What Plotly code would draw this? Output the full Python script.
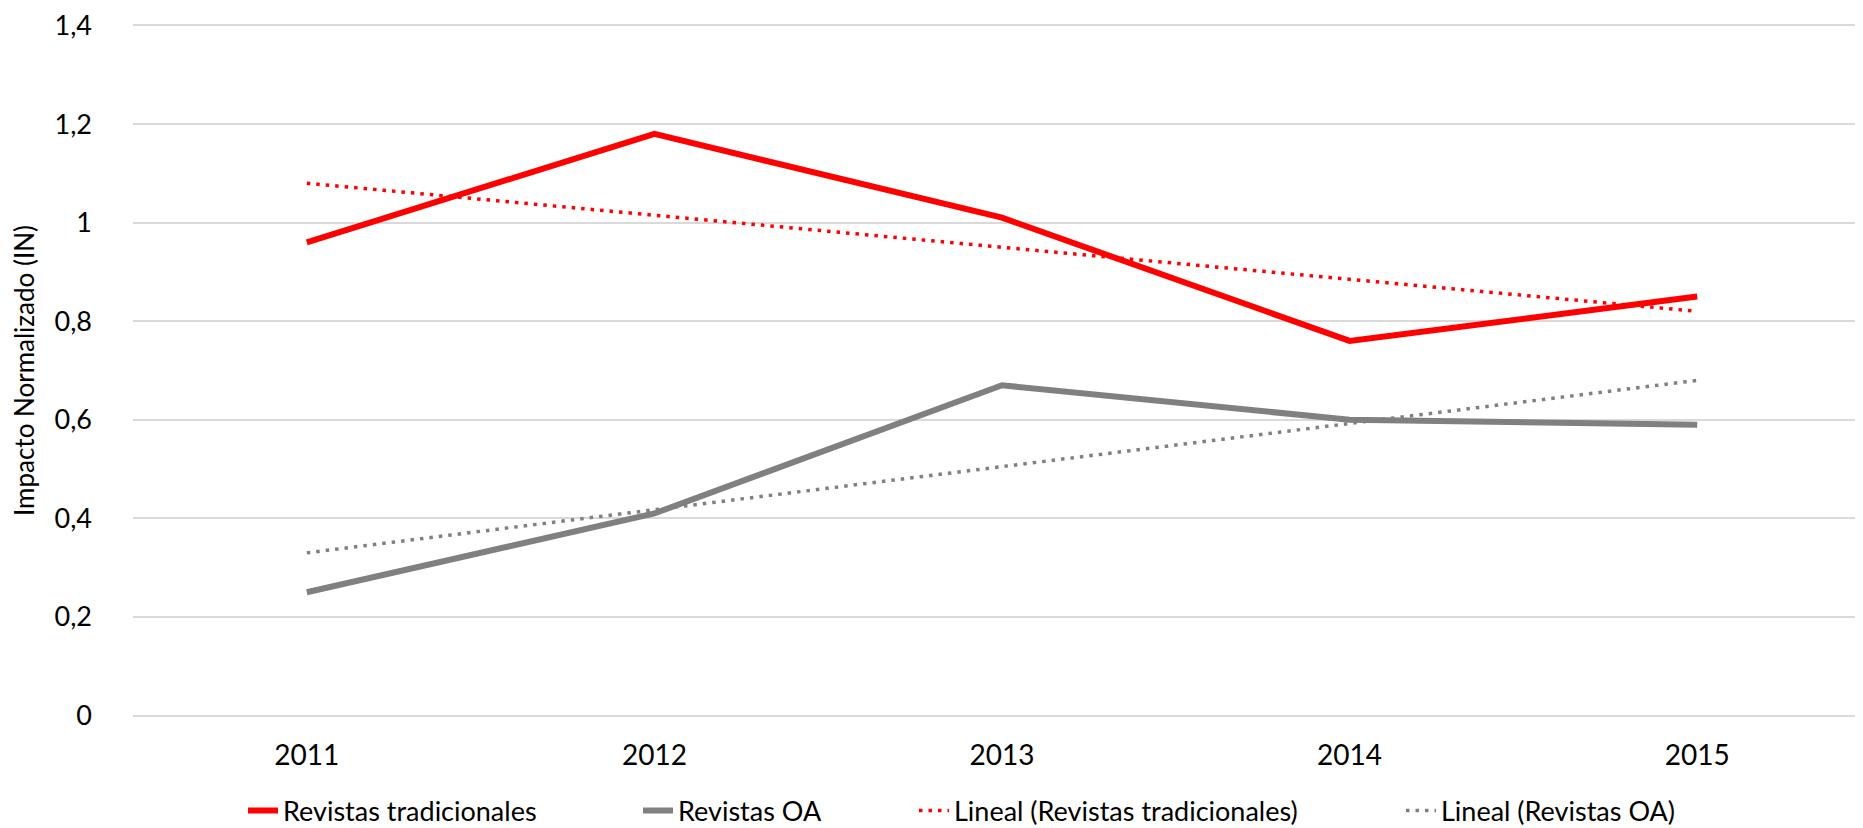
"""Impacto normalizado: revistas tradicionales vs revistas OA, 2011-2015."""

import plotly.graph_objects as go

YEARS = ["2011", "2012", "2013", "2014", "2015"]
TRADICIONALES = [0.96, 1.18, 1.01, 0.76, 0.85]
OPEN_ACCESS = [0.25, 0.41, 0.67, 0.60, 0.59]

# linear trend lines, endpoints as drawn in the source chart
TREND_YEARS = ["2011", "2015"]
TREND_TRADICIONALES = [1.08, 0.82]
TREND_OPEN_ACCESS = [0.33, 0.68]

Y_TICKS = [0, 0.2, 0.4, 0.6, 0.8, 1.0, 1.2, 1.4]
Y_TICK_TEXT = ["0", "0,2", "0,4", "0,6", "0,8", "1", "1,2", "1,4"]

RED = "#ff0000"
GRAY = "#808080"
FONT = "Lato, Open Sans, Arial"
WIDTH, HEIGHT = 1863, 828

# one legend per series so that each entry sits where it does in the original
LEGEND_TEXT_X = [279, 674, 950, 1437]


def _legend(text_x: float) -> dict:
    return {
        "orientation": "h",
        "xref": "container",
        "yref": "container",
        "x": (text_x - 44) / WIDTH,
        "xanchor": "left",
        "y": 1 - 803 / HEIGHT,
        "yanchor": "middle",
        "font": {"size": 27, "color": "#000000"},
        "bgcolor": "rgba(0,0,0,0)",
    }


fig = go.Figure()
fig.add_trace(
    go.Scatter(
        x=YEARS, y=TRADICIONALES, mode="lines", name="Revistas tradicionales",
        line={"color": RED, "width": 6}, legend="legend",
    )
)
fig.add_trace(
    go.Scatter(
        x=YEARS, y=OPEN_ACCESS, mode="lines", name="Revistas OA",
        line={"color": GRAY, "width": 6}, legend="legend2",
    )
)
fig.add_trace(
    go.Scatter(
        x=TREND_YEARS, y=TREND_TRADICIONALES, mode="lines",
        name="Lineal (Revistas tradicionales)",
        line={"color": RED, "width": 3.5, "dash": "3.5px,6px"}, legend="legend3",
    )
)
fig.add_trace(
    go.Scatter(
        x=TREND_YEARS, y=TREND_OPEN_ACCESS, mode="lines",
        name="Lineal (Revistas OA)",
        line={"color": GRAY, "width": 3.5, "dash": "3.5px,6px"}, legend="legend4",
    )
)

fig.update_layout(
    width=WIDTH,
    height=HEIGHT,
    paper_bgcolor="white",
    plot_bgcolor="white",
    margin={"l": 125, "r": 0, "t": 16, "b": 119, "autoexpand": False},
    font={"family": FONT, "color": "#000000", "size": 24},
    showlegend=True,
    legend=_legend(LEGEND_TEXT_X[0]),
    legend2=_legend(LEGEND_TEXT_X[1]),
    legend3=_legend(LEGEND_TEXT_X[2]),
    legend4=_legend(LEGEND_TEXT_X[3]),
)
fig.update_xaxes(
    type="category",
    range=[-0.5, 4.5],
    showgrid=False,
    showline=False,
    zeroline=False,
    ticks="",
    tickfont={"size": 28},
    ticklabelstandoff=19,
)
fig.update_yaxes(
    range=[-0.003, 1.403],
    tickvals=Y_TICKS,
    ticktext=Y_TICK_TEXT,
    showgrid=True,
    gridcolor="#d9d9d9",
    gridwidth=1.5,
    zeroline=False,
    showline=False,
    ticks="",
    tickfont={"size": 27},
    ticklabelstandoff=40,
    ticklabeloverflow="allow",
    title={"text": "Impacto Normalizado (IN)", "font": {"size": 26}, "standoff": 20},
)

fig.write_html("out.html")
